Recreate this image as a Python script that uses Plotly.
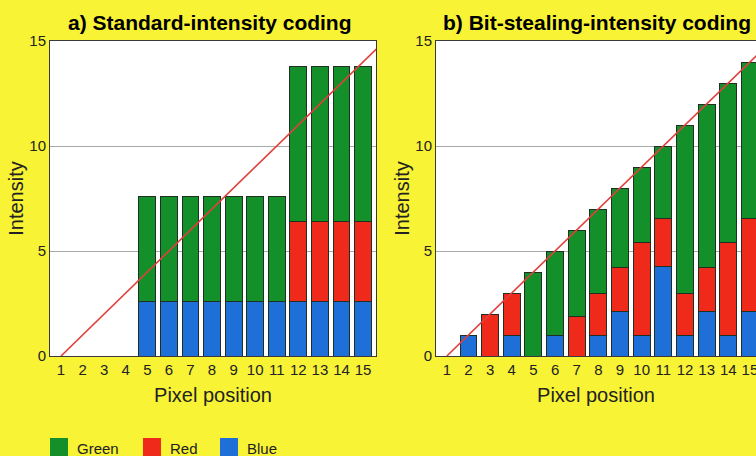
import plotly.graph_objects as go

# Pixel positions along the row
pixels = list(range(1, 16))
tick_text = [str(p) for p in pixels]

# a) Standard-intensity coding: stacked channel contributions
std_blue = [None, None, None, None, 2.6, 2.6, 2.6, 2.6, 2.6, 2.6, 2.6, 2.6, 2.6, 2.6, 2.6]
std_red = [None, None, None, None, None, None, None, None, None, None, None, 3.8, 3.8, 3.8, 3.8]
std_green = [None, None, None, None, 5.0, 5.0, 5.0, 5.0, 5.0, 5.0, 5.0, 7.4, 7.4, 7.4, 7.4]

# b) Bit-stealing-intensity coding
bs_blue = [None, 1.0, None, 1.0, None, 1.0, None, 1.0, 2.1, 1.0, 4.25, 1.0, 2.1, 1.0, 2.1]
bs_red = [None, None, 2.0, 2.0, None, None, 1.9, 2.0, 2.1, 4.4, 2.3, 2.0, 2.1, 4.4, 4.45]
bs_green = [None, None, None, None, 4.0, 4.0, 4.1, 4.0, 3.8, 3.6, 3.45, 8.0, 7.8, 7.6, 7.45]

# Ideal linear intensity ramp
ramp_x = [1, 16]
ramp_y = [0, 15]

y_ticks = [0, 5, 10, 15]

GREEN = "#13902a"
RED = "#ef2a1a"
BLUE = "#1f6fd8"
OUTLINE = "#1f2f22"
BG = "#f8f335"
FONT = "Liberation Sans, Arial, sans-serif"

W, H = 756, 456

fig = go.Figure()

def add_panel(blue, red, green, xa, ya):
    for name, vals, col in (("Blue", blue, BLUE), ("Red", red, RED), ("Green", green, GREEN)):
        fig.add_trace(go.Bar(
            x=pixels, y=vals, name=name, marker_color=col,
            marker_line_color=OUTLINE, marker_line_width=1,
            xaxis=xa, yaxis=ya, showlegend=False,
        ))
    fig.add_trace(go.Scatter(
        x=ramp_x, y=ramp_y, mode="lines", line=dict(color="#e0403c", width=1.6),
        xaxis=xa, yaxis=ya, showlegend=False, hoverinfo="skip",
    ))

add_panel(std_blue, std_red, std_green, "x", "y")
add_panel(bs_blue, bs_red, bs_green, "x2", "y2")

ydom = [1 - 356 / H, 1 - 41 / H]

xaxis_common = dict(
    tickvals=pixels, ticktext=tick_text, showgrid=False, zeroline=False,
    showline=True, linecolor="#3a3a3a", linewidth=1, ticks="",
    ticklabeloverflow="allow", automargin=False,
    tickfont=dict(family=FONT, size=15, color="#222"),
    title=dict(text="Pixel position", font=dict(family=FONT, size=20, color="#222"), standoff=10),
)
yaxis_common = dict(
    range=[0, 15], tickvals=y_ticks, showgrid=True, gridcolor="#a8a8a8", gridwidth=1,
    zeroline=False, showline=True, linecolor="#3a3a3a", linewidth=1, ticks="",
    automargin=False,
    tickfont=dict(family=FONT, size=15, color="#222"),
    title=dict(text="Intensity", font=dict(family=FONT, size=20, color="#222"), standoff=0),
)

fig.update_layout(
    width=W, height=H, autosize=False,
    margin=dict(l=0, r=0, t=0, b=0, pad=0, autoexpand=False),
    paper_bgcolor=BG, plot_bgcolor="white",
    barmode="stack", bargap=0.22,
    xaxis=dict(domain=[50 / W, 376 / W], range=[0.49, 15.6], anchor="y", mirror=True, **xaxis_common),
    yaxis=dict(domain=ydom, anchor="x", mirror=True, **yaxis_common),
    xaxis2=dict(domain=[436 / W, 1.0], range=[0.5, 15.28], anchor="y2", mirror=True, **xaxis_common),
    yaxis2=dict(domain=ydom, anchor="x2", mirror=False, **yaxis_common),
    showlegend=False,
)

# Panel titles
for text, xc in (("a) Standard-intensity coding", 210), ("b) Bit-stealing-intensity coding", 597)):
    fig.add_annotation(
        text=f"<b>{text}</b>", x=xc / W, y=1 - 22 / H, xref="paper", yref="paper",
        xanchor="center", yanchor="middle", showarrow=False,
        font=dict(family=FONT, size=21, color="black"),
    )

# Channel key along the bottom
for name, col, x0 in (("Green", GREEN, 50), ("Red", RED, 143), ("Blue", BLUE, 220)):
    fig.add_shape(
        type="rect", xref="paper", yref="paper",
        x0=x0 / W, x1=(x0 + 18) / W, y0=1 - 456 / H, y1=1 - 438 / H,
        fillcolor=col, line=dict(width=0),
    )
    fig.add_annotation(
        text=name, x=(x0 + 25) / W, y=1 - 448 / H, xref="paper", yref="paper",
        xanchor="left", yanchor="middle", showarrow=False,
        font=dict(family=FONT, size=15, color="#222"),
    )

fig.write_html("out.html")
